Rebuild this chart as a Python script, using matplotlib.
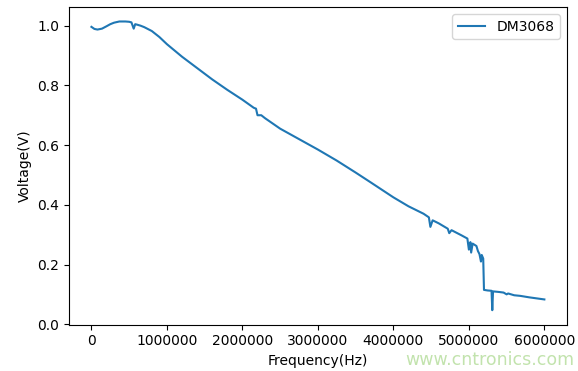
import matplotlib
matplotlib.use("Agg")
import matplotlib.pyplot as plt

freq = [0, 40000, 80000, 140000, 200000, 250000, 300000, 370000, 450000,
        500000, 530000, 560000, 580000, 610000, 650000, 700000, 800000,
        900000, 1000000, 1100000, 1200000, 1400000, 1600000, 1800000,
        2000000, 2150000, 2180000, 2200000, 2250000, 2300000, 2500000,
        2750000, 3000000, 3250000, 3500000, 3700000, 4000000, 4200000,
        4400000, 4470000, 4490000, 4520000, 4600000, 4720000, 4740000,
        4770000, 4900000, 4980000, 5000000, 5020000, 5030000, 5050000,
        5100000, 5120000, 5140000, 5160000, 5170000, 5190000, 5200000,
        5250000, 5300000, 5310000, 5320000, 5400000, 5460000, 5500000,
        5520000, 5600000, 5680000, 5800000, 6000000]
volt = [0.996, 0.989, 0.987, 0.990, 0.998, 1.005, 1.010, 1.014, 1.014,
        1.013, 1.011, 0.990, 1.005, 1.003, 1.000, 0.995, 0.982,
        0.962, 0.938, 0.917, 0.896, 0.858, 0.820, 0.785,
        0.752, 0.725, 0.722, 0.700, 0.700, 0.690, 0.655,
        0.620, 0.585, 0.548, 0.508, 0.475, 0.425, 0.395,
        0.370, 0.358, 0.326, 0.348, 0.338, 0.320, 0.305,
        0.315, 0.298, 0.287, 0.250, 0.275, 0.240, 0.270,
        0.262, 0.245, 0.235, 0.210, 0.232, 0.220, 0.115,
        0.113, 0.112, 0.047, 0.110, 0.108, 0.106, 0.100,
        0.103, 0.097, 0.095, 0.090, 0.083]

fig, ax = plt.subplots(figsize=(5.78, 3.71), dpi=100)
fig.subplots_adjust(left=0.119, right=0.981, top=0.981, bottom=0.125)

ax.plot(freq, volt, color="#1f77b4", label="DM3068")
ax.ticklabel_format(style="plain", axis="x", useOffset=False)
ax.set_xlabel("Frequency(Hz)")
ax.set_ylabel("Voltage(V)")
ax.legend(loc="upper right")

# watermark
fig.text(0.993, 0.03, "www.cntronics.com", color="#c2e3ad", fontsize=12.5,
         ha="right", va="center")

fig.savefig("out.png", dpi=100)
